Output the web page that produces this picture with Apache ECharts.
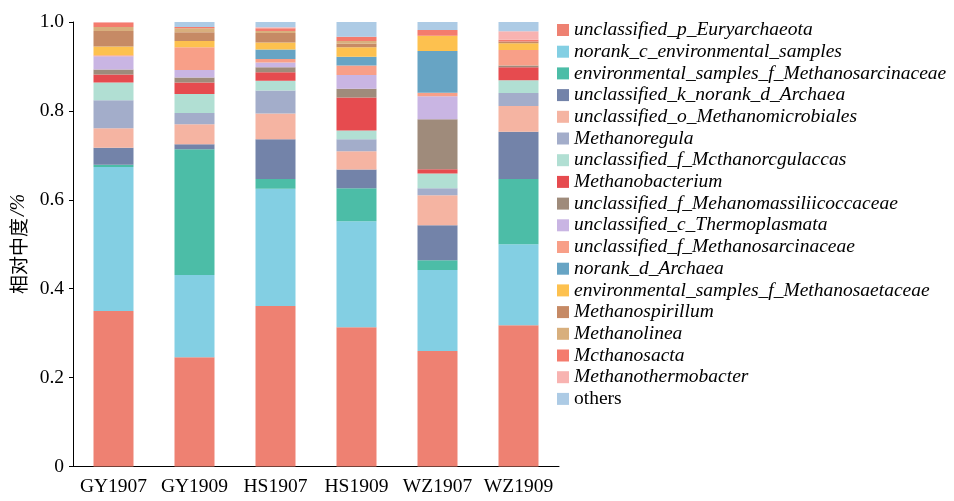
<!DOCTYPE html>
<html><head><meta charset="utf-8">
<script src="https://cdn.jsdelivr.net/npm/echarts@6/dist/echarts.min.js"></script>
<style>html,body{margin:0;padding:0;background:#fff}#c{width:954px;height:501px}</style>
</head><body><div id="c"></div>
<script>
const samples = ['GY1907','GY1909','HS1907','HS1909','WZ1907','WZ1909'];
const taxa = [
  'unclassified_p_Euryarchaeota','norank_c_environmental_samples','environmental_samples_f_Methanosarcinaceae',
  'unclassified_k_norank_d_Archaea','unclassified_o_Methanomicrobiales','Methanoregula',
  'unclassified_f_Mcthanorcgulaccas','Methanobacterium','unclassified_f_Mehanomassiliicoccaceae',
  'unclassified_c_Thermoplasmata','unclassified_f_Methanosarcinaceae','norank_d_Archaea',
  'environmental_samples_f_Methanosaetaceae','Methanospirillum','Methanolinea','Mcthanosacta',
  'Methanothermobacter','others'
];
// relative abundance per sample, in taxa order (bottom to top)
const GY1907 = [0.350,0.324,0.005,0.038,0.044,0.063,0.040,0.018,0.011,0.030,0.002,0.000,0.020,0.035,0.009,0.009,0.002,0.001];
const GY1909 = [0.246,0.185,0.283,0.011,0.045,0.025,0.043,0.026,0.011,0.017,0.051,0.000,0.014,0.020,0.009,0.003,0.000,0.011];
const HS1907 = [0.361,0.264,0.022,0.089,0.058,0.052,0.022,0.019,0.011,0.011,0.008,0.021,0.016,0.021,0.005,0.006,0.002,0.012];
const HS1909 = [0.313,0.239,0.074,0.042,0.041,0.027,0.020,0.074,0.020,0.031,0.021,0.020,0.021,0.008,0.006,0.010,0.000,0.033];
const WZ1907 = [0.260,0.182,0.022,0.079,0.067,0.016,0.033,0.010,0.112,0.052,0.008,0.094,0.034,0.000,0.000,0.013,0.000,0.018];
const WZ1909 = [0.318,0.182,0.147,0.106,0.058,0.029,0.029,0.029,0.004,0.000,0.035,0.000,0.015,0.004,0.000,0.004,0.019,0.021];
const yTicks = [0,0.2,0.4,0.6,0.8,1.0];

const palette = ['#EE8172','#83CFE3','#4CBDA7','#7383A9','#F5B4A2','#A3ADCA','#B1DFD3','#E64B4F','#9F8B7B',
  '#C9B5E3','#F89F88','#67A4C4','#FDC14F','#C68A65','#D8AF7D','#F47B6D','#F8B3B1','#ADCBE5'];

const bySample = [GY1907,GY1909,HS1907,HS1909,WZ1907,WZ1909];
const serif = '"Liberation Serif","Times New Roman",serif';

const series = taxa.map((t,i)=>({
  name:t, type:'bar', stack:'all', barWidth:40,
  itemStyle:{color:palette[i]},
  emphasis:{disabled:true},
  data: bySample.map(s=>s[i])
}));

const chart = echarts.init(document.getElementById('c'), null, {renderer:'canvas'});
chart.setOption({
  animation:false,
  grid:{left:73, top:22, width:486, bottom:34.5, containLabel:false},
  xAxis:{type:'category', data:samples, boundaryGap:true,
    axisLine:{lineStyle:{color:'#000', width:1}},
    axisTick:{show:false},
    axisLabel:{interval:0, color:'#000', fontFamily:serif, fontSize:19.5, margin:10}
  },
  yAxis:{type:'value', min:0, max:1, interval:0.2,
    axisLine:{show:true, lineStyle:{color:'#000', width:1}},
    axisTick:{show:true, inside:false, length:4, lineStyle:{color:'#000'}},
    splitLine:{show:false},
    axisLabel:{color:'#000', fontFamily:serif, fontSize:19.5, margin:9,
      formatter:v=> v===0 ? '0' : v.toFixed(1)}
  },
  legend:{orient:'vertical', left:552, top:15, itemWidth:12, itemHeight:12, itemGap:1.7,
    icon:'rect', selectedMode:false,
    data:taxa,
    formatter:n=> n==='others' ? '{n|'+n+'}' : '{i|'+n+'}',
    textStyle:{lineHeight:20, rich:{
      i:{fontFamily:serif, fontStyle:'italic', fontSize:19.5, color:'#000', lineHeight:20},
      n:{fontFamily:serif, fontSize:19.5, color:'#000', lineHeight:20}
    }}
  },
  graphic:[{type:'text', x:19, y:244, rotation:Math.PI/2,
    style:{text:'{c|相对中度}{p|/%}', align:'center', verticalAlign:'middle',
      rich:{
        c:{fontFamily:'"Noto Sans CJK SC", sans-serif', fontSize:19, color:'#222'},
        p:{fontFamily:serif, fontStyle:'italic', fontSize:20, color:'#222', padding:[0,0,0,2]}
      }}}],
  series: series
});
</script></body></html>
